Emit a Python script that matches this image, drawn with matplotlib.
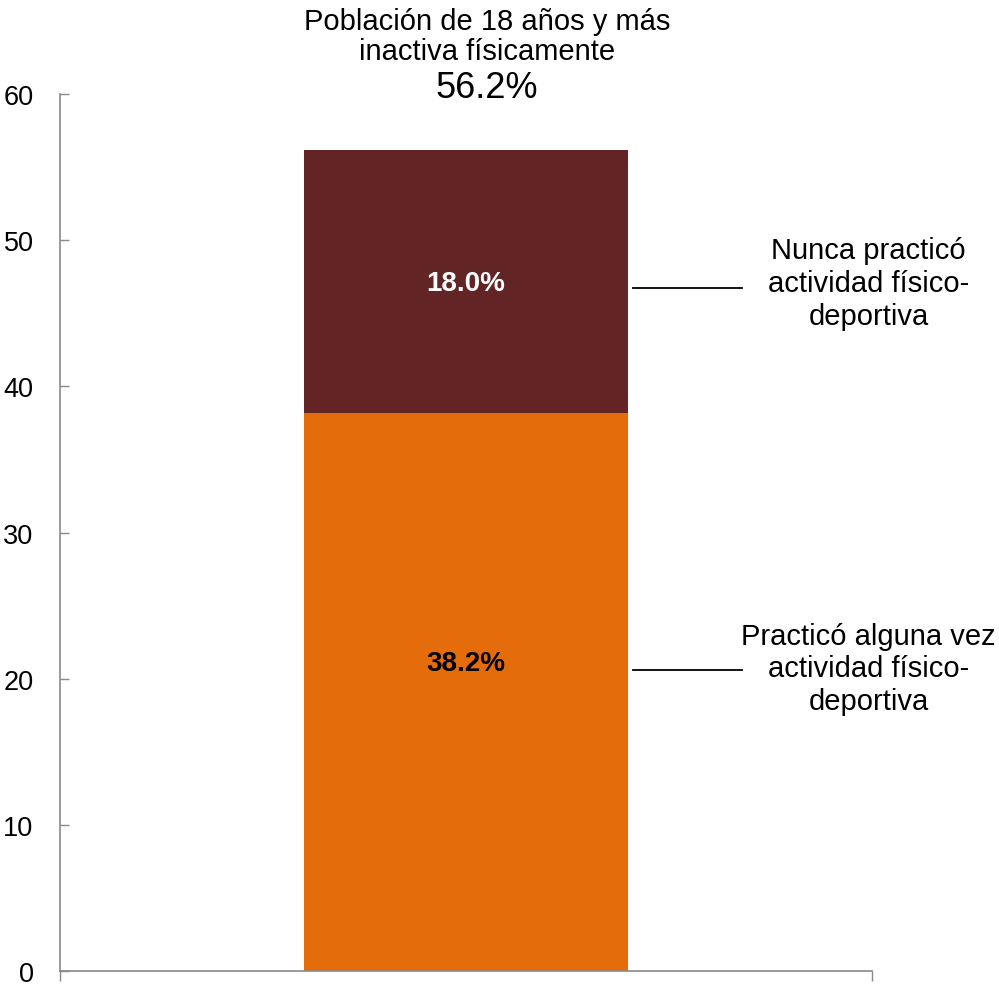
import matplotlib.pyplot as plt

plt.rcParams['font.family'] = ['Liberation Sans', 'DejaVu Sans']

# datos
categorias = ['Población de 18 años y más inactiva físicamente']
segmentos = ['Practicó alguna vez\nactividad físico-\ndeportiva',
             'Nunca practicó\nactividad físico-\ndeportiva']
valores = [38.2, 18.0]
colores = ['#E46C0A', '#632426']
colores_texto = ['#000000', '#FFFFFF']
total = 56.2

fig = plt.figure(figsize=(9.99, 9.87), dpi=100)
ax = fig.add_axes([60 / 999, 15 / 987, 812 / 999, 877 / 987])

base = 0
for val, col, tcol, seg in zip(valores, colores, colores_texto, segmentos):
    ax.bar(0, val, width=0.4, bottom=base, color=col, edgecolor='none')
    ypos = base + val / 2 + (2.0 if base == 0 else -0.1)
    ax.text(0, ypos, f'{val:.1f}%', ha='center', va='center',
            fontsize=20, fontweight='bold', color=tcol)
    # linea guia y etiqueta de la serie
    yl = base + val / 2 + (1.5 if base == 0 else -0.5)
    ax.plot([0.206, 0.34], [yl, yl], color='black', lw=1.3, clip_on=False)
    ax.text(0.496, yl + (0.1 if base == 0 else 0.35), seg, ha='center',
            va='center', fontsize=21, linespacing=1.22, clip_on=False)
    base += val

ax.set_xlim(-0.5, 0.5)
ax.set_ylim(0, 60)
ax.set_yticks(range(0, 61, 10))
ax.set_xticks([-0.5, 0.5])
ax.set_xticklabels(['', ''])
ax.tick_params(axis='y', direction='in', length=6.5, width=1, color='#898989',
               labelsize=19.5, pad=19)
ax.tick_params(axis='x', direction='out', length=7, width=1, color='#898989')
for s in ['top', 'right']:
    ax.spines[s].set_visible(False)
for s in ['left', 'bottom']:
    ax.spines[s].set_color('#898989')
    ax.spines[s].set_linewidth(1.2)

fig.text(487 / 999, 1 - 37 / 987, 'Población de 18 años y más\ninactiva físicamente',
         ha='center', va='center', fontsize=21, linespacing=1.08)
fig.text(487 / 999, 1 - 89 / 987, f'{total:.1f}%', ha='center', va='center',
         fontsize=26)

fig.savefig('out.png', dpi=100)
